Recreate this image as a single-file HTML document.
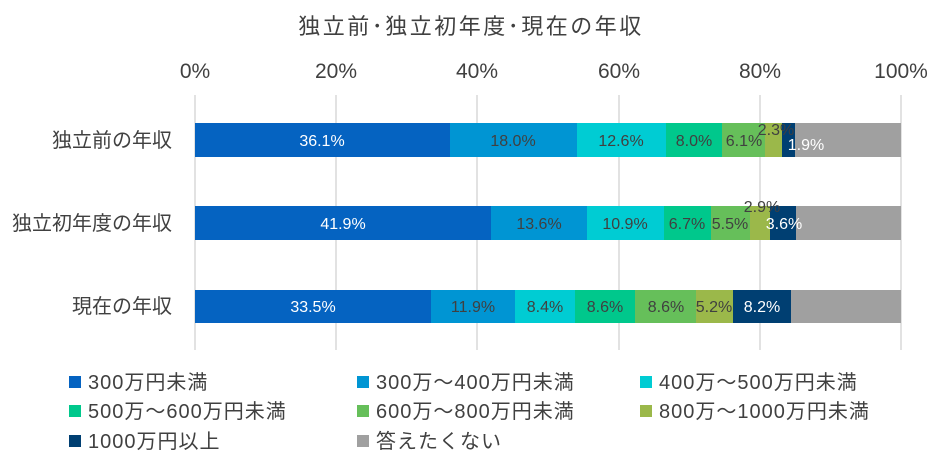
<!DOCTYPE html><html><head><meta charset="utf-8"><style>body{margin:0;background:#fff}svg{display:block}text{font-family:"Liberation Sans","Noto Sans CJK JP",sans-serif;fill:#404040}</style></head><body>
<svg width="943" height="460" viewBox="0 0 943 460">
<text x="471" y="34" font-size="22" letter-spacing="2.5" text-anchor="middle">独立前･独立初年度･現在の年収</text>
<g font-size="21" text-anchor="middle">
<text x="195" y="78">0%</text><text x="336" y="78">20%</text><text x="477" y="78">40%</text><text x="619" y="78">60%</text><text x="760" y="78">80%</text><text x="901" y="78">100%</text></g>
<g stroke="#d9d9d9" stroke-width="1.5"><line x1="195" y1="95" x2="195" y2="350"/><line x1="336" y1="95" x2="336" y2="350"/><line x1="477" y1="95" x2="477" y2="350"/><line x1="619" y1="95" x2="619" y2="350"/><line x1="760" y1="95" x2="760" y2="350"/><line x1="901" y1="95" x2="901" y2="350"/></g>
<g font-size="20" text-anchor="end"><text x="172" y="147">独立前の年収</text><text x="172" y="230">独立初年度の年収</text><text x="172" y="313">現在の年収</text></g>
<g>
<rect x="195" y="123" width="255" height="34" fill="#0563C1"/><rect x="450" y="123" width="127" height="34" fill="#0095D3"/><rect x="577" y="123" width="89" height="34" fill="#00CCD3"/><rect x="666" y="123" width="57" height="34" fill="#00C88C"/><rect x="722" y="123" width="44" height="34" fill="#66BF5A"/><rect x="765" y="123" width="17" height="34" fill="#9BB84A"/><rect x="782" y="123" width="14" height="34" fill="#003F72"/><rect x="795" y="123" width="106" height="34" fill="#A0A0A0"/>
<rect x="195" y="206" width="296" height="34" fill="#0563C1"/><rect x="491" y="206" width="96" height="34" fill="#0095D3"/><rect x="587" y="206" width="77" height="34" fill="#00CCD3"/><rect x="664" y="206" width="48" height="34" fill="#00C88C"/><rect x="711" y="206" width="39" height="34" fill="#66BF5A"/><rect x="750" y="206" width="21" height="34" fill="#9BB84A"/><rect x="770" y="206" width="26" height="34" fill="#003F72"/><rect x="796" y="206" width="105" height="34" fill="#A0A0A0"/>
<rect x="195" y="290" width="237" height="33" fill="#0563C1"/><rect x="431" y="290" width="85" height="33" fill="#0095D3"/><rect x="515" y="290" width="60" height="33" fill="#00CCD3"/><rect x="575" y="290" width="61" height="33" fill="#00C88C"/><rect x="635" y="290" width="62" height="33" fill="#66BF5A"/><rect x="696" y="290" width="37" height="33" fill="#9BB84A"/><rect x="733" y="290" width="58" height="33" fill="#003F72"/><rect x="791" y="290" width="110" height="33" fill="#A0A0A0"/>
</g>
<g font-size="16" text-anchor="middle">
<text x="322" y="146" style="fill:#fff">36.1%</text><text x="513" y="146">18.0%</text><text x="621" y="146">12.6%</text><text x="694" y="146">8.0%</text><text x="744" y="146">6.1%</text><text x="776" y="135">2.3%</text><text x="806" y="150" style="fill:#fff">1.9%</text>
<text x="343" y="229" style="fill:#fff">41.9%</text><text x="539" y="229">13.6%</text><text x="625" y="229">10.9%</text><text x="687" y="229">6.7%</text><text x="730" y="229">5.5%</text><text x="762" y="212">2.9%</text><text x="784" y="229" style="fill:#fff">3.6%</text>
<text x="313" y="312" style="fill:#fff">33.5%</text><text x="473" y="312">11.9%</text><text x="545" y="312">8.4%</text><text x="605" y="312">8.6%</text><text x="666" y="312">8.6%</text><text x="714" y="312">5.2%</text><text x="762" y="312" style="fill:#fff">8.2%</text>
</g>
<g font-size="20" letter-spacing="1">
<rect x="69" y="376" width="12" height="12" fill="#0563C1"/><text x="88" y="389">300万円未満</text>
<rect x="357" y="376" width="12" height="12" fill="#0095D3"/><text x="376" y="389">300万～400万円未満</text>
<rect x="640" y="376" width="12" height="12" fill="#00CCD3"/><text x="659" y="389">400万～500万円未満</text>
<rect x="69" y="405" width="12" height="12" fill="#00C88C"/><text x="88" y="418">500万～600万円未満</text>
<rect x="357" y="405" width="12" height="12" fill="#66BF5A"/><text x="376" y="418">600万～800万円未満</text>
<rect x="640" y="405" width="12" height="12" fill="#9BB84A"/><text x="659" y="418">800万～1000万円未満</text>
<rect x="69" y="435" width="12" height="12" fill="#003F72"/><text x="88" y="448">1000万円以上</text>
<rect x="357" y="435" width="12" height="12" fill="#A0A0A0"/><text x="376" y="448">答えたくない</text>
</g>
</svg></body></html>
